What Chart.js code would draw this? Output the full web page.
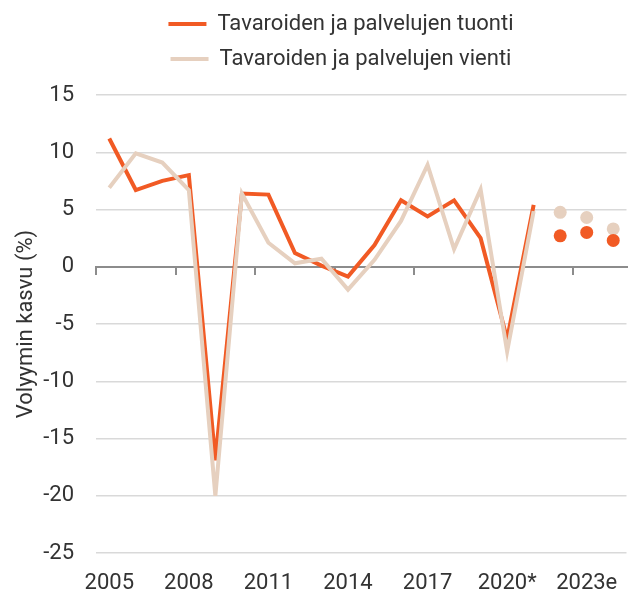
<!DOCTYPE html>
<html>
<head>
<meta charset="utf-8">
<script src="https://cdn.jsdelivr.net/npm/chart.js@4"></script>
<style>
  html, body { margin: 0; padding: 0; background: #fff; }
  #wrap { width: 633px; height: 594px; }
</style>
</head>
<body>
<div id="wrap"><canvas id="chart"></canvas></div>
<script>
const years = ["2005", "2006", "2007", "2008", "2009", "2010", "2011", "2012", "2013", "2014",
  "2015", "2016", "2017", "2018", "2019", "2020*", "2021", "2022e", "2023e", "2024e"];

// toteutunut 2005-2021
const imports = [11.2, 6.7, 7.5, 8.0, -16.9, 6.4, 6.3, 1.2, 0.1, -0.85, 1.9, 5.8, 4.4, 5.8, 2.5, -6.3, 5.4];
const exports = [6.9, 9.9, 9.1, 6.7, -20.0, 6.4, 2.1, 0.3, 0.7, -2.0, 0.6, 4.0, 8.9, 1.55, 6.75, -7.4, 4.85];

// ennusteet 2022e-2024e
const importsForecast = [2.7, 3.0, 2.3];
const exportsForecast = [4.75, 4.3, 3.3];

const yTicks = [-25, -20, -15, -10, -5, 0, 5, 10, 15];

const orange = "#f15a24";
const beige = "#e6d0bf";

const pad = (arr, before, total) => {
  const out = new Array(before).fill(null).concat(arr);
  while (out.length < total) out.push(null);
  return out;
};

Chart.defaults.font.family = "Roboto";
Chart.defaults.font.size = 22;
Chart.defaults.color = "#333";

const legendPlace = {
  id: "legendPlace",
  beforeInit(chart) {
    const fit = chart.legend.fit;
    chart.legend.fit = function () {
      fit.bind(chart.legend)();
      this.height += 15;
    };
  },
  afterLayout(chart) {
    chart.legend.left += 22;
    chart.legend.right += 22;
  },
};

new Chart(document.getElementById("chart"), {
  type: "line",
  data: {
    labels: years,
    datasets: [
      {
        label: "Tavaroiden ja palvelujen tuonti",
        data: pad(imports, 0, years.length),
        borderColor: orange,
        backgroundColor: orange,
        borderWidth: 4,
        pointRadius: 0,
        order: 1,
      },
      {
        label: "Tavaroiden ja palvelujen vienti",
        data: pad(exports, 0, years.length),
        borderColor: beige,
        backgroundColor: beige,
        borderWidth: 4,
        pointRadius: 0,
        order: 0,
      },
      {
        label: "tuonti ennuste",
        data: pad(importsForecast, imports.length, years.length),
        showLine: false,
        pointRadius: 6.5,
        pointBorderWidth: 0,
        pointBackgroundColor: orange,
        order: 2,
      },
      {
        label: "vienti ennuste",
        data: pad(exportsForecast, exports.length, years.length),
        showLine: false,
        pointRadius: 6.5,
        pointBorderWidth: 0,
        pointBackgroundColor: beige,
        order: 3,
      },
    ],
  },
  options: {
    responsive: true,
    maintainAspectRatio: false,
    animation: false,
    layout: { padding: { left: 9, right: 4, top: 0, bottom: 1 } },
    plugins: {
      legend: {
        labels: {
          boxWidth: 38,
          boxHeight: 4,
          padding: 13,
          color: "#333",
          generateLabels(chart) {
            return Chart.defaults.plugins.legend.labels.generateLabels(chart).map((item) => ({
              ...item,
              lineWidth: 0,
              strokeStyle: "rgba(0,0,0,0)",
            }));
          },
          filter: (item) => item.datasetIndex < 2,
          sort: (a, b) => a.datasetIndex - b.datasetIndex,
        },
      },
      tooltip: { enabled: false },
    },
    scales: {
      x: {
        offset: true,
        grid: { display: false },
        border: { display: false },
        afterFit(scale) {
          scale.height = 40;
        },
        ticks: {
          autoSkip: false,
          maxRotation: 0,
          padding: 9,
          callback(value, index) {
            return index % 3 === 0 ? this.getLabelForValue(value) : "";
          },
        },
      },
      x2: {
        type: "category",
        position: { y: 0 },
        offset: true,
        ticks: { display: false },
        grid: {
          offset: true,
          drawOnChartArea: false,
          tickLength: 7,
          lineWidth: 2,
          color: (ctx) => (ctx.index % 3 === 0 ? "#8c8c8c" : "rgba(0,0,0,0)"),
        },
        border: { color: "#8c8c8c", width: 2 },
      },
      y: {
        min: -25,
        max: 15,
        afterBuildTicks(scale) {
          scale.ticks = yTicks.map((v) => ({ value: v }));
        },
        afterFit(scale) {
          scale.width = 87;
        },
        grid: { color: "#d9d9d9", lineWidth: 1.5, drawTicks: false },
        border: { display: false },
        ticks: { padding: 22 },
        title: {
          display: true,
          text: "Volyymin kasvu (%)",
          padding: { top: 4, bottom: 4 },
        },
      },
    },
  },
  plugins: [legendPlace],
});
</script>
</body>
</html>
